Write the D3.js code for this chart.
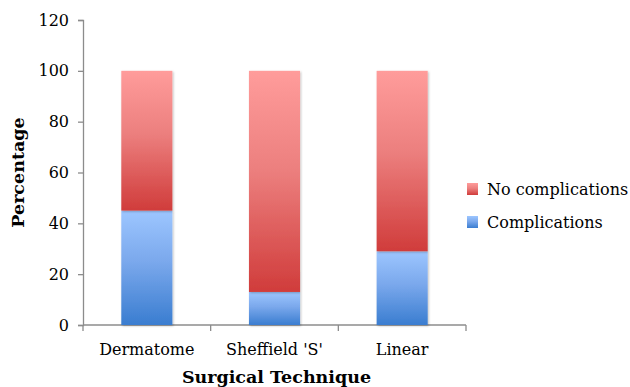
<!DOCTYPE html>
<html>
<head>
<meta charset="utf-8">
<script src="https://cdn.jsdelivr.net/npm/d3@7"></script>
<style>
  body { margin: 0; background: #fff; }
  text { font-family: "DejaVu Serif", serif; fill: #000; }
</style>
</head>
<body>
<div id="chart"></div>
<script>
// chart data
var categories = ["Dermatome", "Sheffield 'S'", "Linear"];
var complications = [45, 13, 29];
var noComplications = [55, 87, 71];
var seriesNames = ["Complications", "No complications"];
var yTicks = [0, 20, 40, 60, 80, 100, 120];

var margin = {top: 20, right: 164, bottom: 62, left: 83};
var width = 630 - margin.left - margin.right;
var height = 387 - margin.top - margin.bottom;

var svg = d3.select("#chart").append("svg")
    .attr("width", 630)
    .attr("height", 387);

var defs = svg.append("defs");

function addGradient(id, top, mid, bottom) {
    var g = defs.append("linearGradient")
        .attr("id", id)
        .attr("x1", 0).attr("y1", 0)
        .attr("x2", 0).attr("y2", 1);
    g.append("stop").attr("offset", "0%").attr("stop-color", top);
    g.append("stop").attr("offset", "45%").attr("stop-color", mid);
    g.append("stop").attr("offset", "100%").attr("stop-color", bottom);
}
addGradient("blueGrad", "#9dc6ff", "#7aa8ec", "#3a7dd0");
addGradient("redGrad", "#ff9c9b", "#ec7f7e", "#d03c3b");

var shadow = defs.append("filter").attr("id", "shadow")
    .attr("x", "-20%").attr("y", "-20%").attr("width", "140%").attr("height", "140%");
shadow.append("feDropShadow")
    .attr("dx", 1).attr("dy", 1).attr("stdDeviation", 1.2)
    .attr("flood-color", "#000").attr("flood-opacity", 0.25);

var chart = svg.append("g")
    .attr("transform", "translate(" + margin.left + "," + margin.top + ")");

var x = d3.scaleBand()
    .domain(categories)
    .range([0, width])
    .paddingInner(0.6)
    .paddingOuter(0.3);

var y = d3.scaleLinear()
    .domain([0, 120])
    .range([height, 0]);

// y axis
var yAxis = chart.append("g")
    .call(d3.axisLeft(y).tickValues(yTicks).tickSize(5).tickPadding(9).tickFormat(d3.format("d")));
yAxis.selectAll("text").style("font-size", "16px");

// x axis with ticks at band boundaries
var xAxisG = chart.append("g").attr("transform", "translate(0," + height + ")");
xAxisG.append("line")
    .attr("x1", 0).attr("x2", width)
    .attr("y1", 0).attr("y2", 0);
var step = width / categories.length;
xAxisG.selectAll(".tk")
    .data(d3.range(categories.length + 1))
    .enter().append("line")
    .attr("class", "tk")
    .attr("x1", function (d) { return d * step; })
    .attr("x2", function (d) { return d * step; })
    .attr("y1", 0).attr("y2", 6);
xAxisG.selectAll(".lbl")
    .data(categories)
    .enter().append("text")
    .attr("class", "lbl")
    .attr("x", function (d) { return x(d) + x.bandwidth() / 2; })
    .attr("y", 30)
    .attr("text-anchor", "middle")
    .style("font-size", "16px")
    .text(function (d) { return d; });

chart.selectAll(".domain, line").attr("stroke", "#8c8c8c").attr("stroke-width", 1.3);
xAxisG.selectAll("line").attr("stroke", "#8c8c8c").attr("stroke-width", 1.3);
yAxis.selectAll(".tick line").attr("stroke", "#8c8c8c");

// bars
var bars = chart.append("g");
bars.selectAll(".bar-comp")
    .data(categories)
    .enter().append("rect")
    .attr("class", "bar-comp")
    .attr("x", function (d) { return x(d); })
    .attr("width", x.bandwidth())
    .attr("y", function (d, i) { return y(complications[i]); })
    .attr("height", function (d, i) { return height - y(complications[i]); })
    .attr("fill", "url(#blueGrad)")
    .attr("filter", "url(#shadow)");

bars.selectAll(".bar-nocomp")
    .data(categories)
    .enter().append("rect")
    .attr("class", "bar-nocomp")
    .attr("x", function (d) { return x(d); })
    .attr("width", x.bandwidth())
    .attr("y", function (d, i) { return y(complications[i] + noComplications[i]); })
    .attr("height", function (d, i) { return y(complications[i]) - y(complications[i] + noComplications[i]); })
    .attr("fill", "url(#redGrad)")
    .attr("filter", "url(#shadow)");

// axis titles
svg.append("text")
    .attr("x", margin.left + width / 2 + 2)
    .attr("y", 383)
    .attr("text-anchor", "middle")
    .style("font-size", "17.5px")
    .style("font-weight", "bold")
    .text("Surgical Technique");

svg.append("text")
    .attr("transform", "translate(24," + (margin.top + y(60)) + ") rotate(-90)")
    .attr("text-anchor", "middle")
    .style("font-size", "17.5px")
    .style("font-weight", "bold")
    .text("Percentage");

// legend
var legendData = [
    {name: seriesNames[1], fill: "url(#redGrad)"},
    {name: seriesNames[0], fill: "url(#blueGrad)"}
];
var legend = svg.append("g").attr("transform", "translate(467,183)");
var li = legend.selectAll(".li")
    .data(legendData)
    .enter().append("g")
    .attr("class", "li")
    .attr("transform", function (d, i) { return "translate(0," + (i * 33) + ")"; });
li.append("rect")
    .attr("width", 11).attr("height", 12)
    .attr("fill", function (d) { return d.fill; });
li.append("text")
    .attr("x", 20).attr("y", 12)
    .style("font-size", "16px")
    .text(function (d) { return d.name; });
</script>
</body>
</html>
